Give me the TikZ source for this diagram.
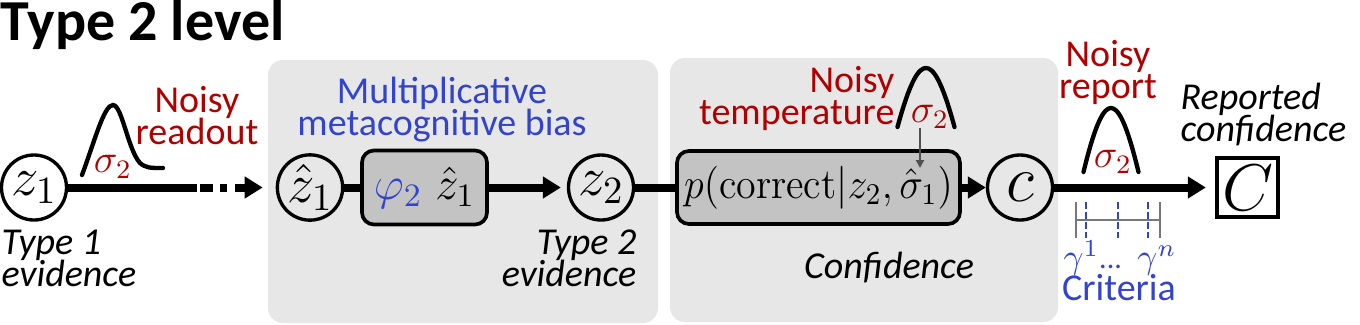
\RequirePackage{fix-cm}
\documentclass[tikz,border=0pt]{standalone}
\usepackage{fontspec}
\usepackage{graphicx}
\usetikzlibrary{arrows.meta,positioning}
\newfontfamily\carlito{Carlito}
\definecolor{noisered}{RGB}{176,0,0}
\definecolor{biasblue}{RGB}{51,68,204}
\definecolor{panelgray}{RGB}{231,231,231}
\definecolor{boxgray}{RGB}{195,195,195}
\definecolor{pingray}{RGB}{80,80,80}
\definecolor{bargray}{RGB}{120,120,120}
% 行距紧凑（不插 \lineskip）
\newcommand{\tightlines}{\lineskiplimit=-20pt\lineskip=0pt}

\begin{document}
\begin{tikzpicture}[x=0.3pt,y=-0.3pt,>=Stealth,
  latent/.style={circle,draw,line width=1pt,minimum size=19.5pt,inner sep=0pt,
    font=\fontsize{16.5}{16.5}\selectfont},
  procbox/.style={draw,line width=1.1pt,rounded corners=3.6pt,fill=boxgray,inner sep=0pt},
  panel/.style={fill=panelgray,rounded corners=4.5pt},
  link/.style={line width=2.4pt},
  flow/.style={line width=2.4pt,-{Triangle[length=5.4pt,width=6.3pt]}},
  gauss/.style={line width=1.3pt,line cap=round},
  sig/.style={text=noisered,inner sep=0pt,font=\fontsize{12}{12}\selectfont},
  lbl/.style={inner sep=0pt,font=\carlito\fontsize{11.4}{9.6}\selectfont\tightlines},
  noisy/.style={lbl,text=noisered},
  tag/.style={lbl,font=\carlito\itshape\fontsize{11.4}{9.6}\selectfont\tightlines}]
\useasboundingbox (0,0) rectangle (1360,324);
% ---------- 背景面板 ----------
\fill[panel] (268,60) rectangle (658,323);
\fill[panel] (670,58) rectangle (1058,322);
% 对称钟形曲线：#1=峰 x, #2=底 y, #3=半宽, #4=高
\newcommand{\gaussbump}[4]{%
  \draw[gauss] ({#1-#3},#2) .. controls ({#1-0.55*#3},{#2-0.8*#4}) and ({#1-0.25*#3},{#2-#4})
    .. (#1,{#2-#4}) .. controls ({#1+0.25*#3},{#2-#4}) and ({#1+0.55*#3},{#2-0.8*#4})
    .. ({#1+#3},#2);}
% ---------- 标题 ----------
\node[lbl,font=\carlito\bfseries\fontsize{17.4}{17.4}\selectfont,anchor=base west] (title) at (0,40) {Type 2 level};
% ---------- 主链节点 ----------
\node[latent] (z1) at (34,187.5) {$z_1$};
\node[latent] (z1hat) at (310,187.5) {$\hat{z}_1$};
\node[procbox,minimum width=37.5pt,minimum height=22.2pt,font=\fontsize{14}{14}\selectfont]
  (biasbox) at (424.5,187.5) {$\color{biasblue}\varphi_2\;\color{black}\hat{z}_1$};
\node[latent] (z2) at (601,187.5) {$z_2$};
\node[procbox,minimum width=84.9pt,minimum height=21.9pt,font=\fontsize{12.9}{12.9}\selectfont]
  (confbox) at (818.5,187.5) {\scalebox{0.93}[1]{$p(\mathrm{correct}|z_2,\hat{\sigma}_1)$}};
\node[latent,font=\fontsize{19.8}{19.8}\selectfont] (cnode) at (1020,187.5) {$c$};
\node[draw,line width=1.3pt,minimum width=18.3pt,minimum height=17.7pt,inner sep=0pt,
  font=\fontsize{19.8}{19.8}\selectfont] (Cbox) at (1247.5,187.5) {$C$};
% ---------- 连线 ----------
\coordinate (rdend) at (197,187.5);
\coordinate (rdgap) at (200,187.5);
\draw[link] (z1) -- (rdend);
\draw[flow,dash pattern=on 3.9pt off 2.1pt on 2.1pt off 2.4pt on 12pt,shorten >=3.9pt] (rdgap) -- (z1hat);
\draw[link] (z1hat) -- (biasbox);
\draw[flow,shorten >=1.8pt] (biasbox) -- (z2);
\draw[link] (z2) -- (confbox);
\draw[flow] (confbox) -- (cnode);
\draw[flow,shorten >=2.7pt] (cnode) -- (Cbox);
% ---------- 噪声曲线 ----------
\draw[gauss] (82,175) .. controls (95,140) and (104,105) .. (113,105)
  .. controls (122,105) and (128,150) .. (140,163) .. controls (146,168) and (150,168) .. (163,168);
\gaussbump{926}{127}{28.5}{59}
\gaussbump{1111}{172}{27.5}{64}
\node[sig] (sigread) at (113,167) {$\sigma_2$};
\node[sig] (sigtemp) at (930,117) {$\sigma_2$};
\node[sig] (sigrep) at (1113,162) {$\sigma_2$};
\coordinate (tempsrc) at (920,128);
\coordinate (temptip) at (920,168);
\draw[pingray,line width=0.6pt,-{Triangle[length=2.4pt,width=2.4pt]}] (tempsrc) -- (temptip);
% ---------- 文字 ----------
\node[noisy,align=center,anchor=south] (readlbl) at (197,145) {Noisy\\readout};
\node[lbl,text=biasblue,align=center,anchor=north] (biaslbl) at (442,76) {Multiplicative\\metacognitive bias};
\node[tag,align=left,anchor=north west] (ev1) at (1,229) {Type 1\\evidence};
\node[tag,align=right,anchor=north east] (ev2) at (637,229) {Type 2\\evidence};
\node[noisy,align=right,anchor=north east] (templbl) at (895,66) {Noisy\\temperature};
\node[tag,anchor=base] (conflbl) at (889,278) {Confidence};
\node[noisy,align=center,anchor=north] (replbl) at (1108,40) {Noisy\\report};
\node[tag,align=left,anchor=north west] (rconf) at (1180,82) {Reported\\confidence};
% ---------- 判据刻度 ----------
\foreach \x in {1076,1160}
  \draw[bargray,line width=0.6pt] (\x,202) -- (\x,238);
\draw[bargray,line width=0.6pt] (1076,220) -- (1160,220);
\foreach \x in {1086,1118,1148}
  \draw[biasblue,line width=0.6pt,dash pattern=on 2.1pt off 0.9pt] (\x,202) -- (\x,238);
\node[sig,text=biasblue,font=\fontsize{10.5}{10.5}\selectfont] (gammas) at (1120,258)
  {$\gamma^1${\carlito\fontsize{9}{9}\selectfont...} $\gamma^n$};
\node[lbl,text=biasblue,anchor=base] (critlbl) at (1119,300) {Criteria};
\end{tikzpicture}
\end{document}
